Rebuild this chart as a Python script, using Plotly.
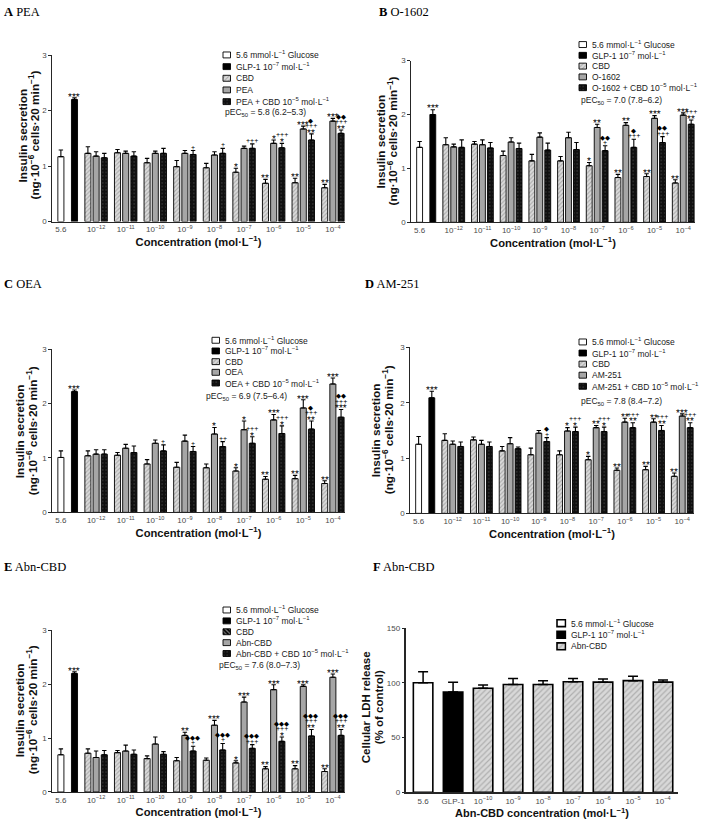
import plotly.graph_objects as go

W, H = 703, 822
FONT = "Liberation Sans, Arial, sans-serif"
SERIF = "Liberation Serif, Times New Roman, serif"
AXC = "#262626"
TICKC = "#4a4a4a"

# ---------------- data ----------------
conc_labels = ["10<sup>−12</sup>", "10<sup>−11</sup>", "10<sup>−10</sup>", "10<sup>−9</sup>",
               "10<sup>−8</sup>", "10<sup>−7</sup>", "10<sup>−6</sup>", "10<sup>−5</sup>", "10<sup>−4</sup>"]
glucose_tick = "5.6"

# A  PEA
PEA_glucose, PEA_glucose_err = 1.17, 0.12
PEA_glp1, PEA_glp1_err = 2.20, 0.03
PEA_cbd = [1.23, 1.24, 1.06, 0.99, 0.97, 0.89, 0.69, 0.70, 0.61]
PEA_cbd_err = [0.12, 0.06, 0.08, 0.11, 0.08, 0.07, 0.07, 0.08, 0.06]
PEA_ag = [1.18, 1.23, 1.23, 1.23, 1.20, 1.32, 1.41, 1.67, 1.81]
PEA_ag_err = [0.08, 0.04, 0.04, 0.05, 0.06, 0.04, 0.06, 0.05, 0.05]
PEA_combo = [1.15, 1.18, 1.23, 1.21, 1.23, 1.32, 1.33, 1.47, 1.59]
PEA_combo_err = [0.08, 0.08, 0.09, 0.07, 0.09, 0.08, 0.08, 0.11, 0.06]
PEA_glp1_sig = "***"
PEA_cbd_sig = ["", "", "", "", "", "*", "**", "**", "**"]
PEA_ag_sig = ["", "", "", "", "", "", "*", "***", "***"]
PEA_combo_sig = ["", "", "", "+", "+", "+++", "+++|*", "◆|+++|**", "◆◆|+++|**"]
PEA_pec50 = "pEC<sub>50</sub> = 5.8 (6.2–5.3)"

# B  O-1602
O1602_glucose, O1602_glucose_err = 1.39, 0.11
O1602_glp1, O1602_glp1_err = 2.00, 0.09
O1602_cbd = [1.44, 1.45, 1.24, 1.14, 1.14, 1.05, 0.83, 0.85, 0.73]
O1602_cbd_err = [0.13, 0.05, 0.08, 0.12, 0.08, 0.06, 0.06, 0.05, 0.06]
O1602_ag = [1.40, 1.44, 1.49, 1.58, 1.57, 1.76, 1.80, 1.93, 1.99]
O1602_ag_err = [0.05, 0.09, 0.08, 0.08, 0.10, 0.06, 0.05, 0.05, 0.04]
O1602_combo = [1.39, 1.38, 1.37, 1.34, 1.35, 1.33, 1.39, 1.48, 1.82]
O1602_combo_err = [0.14, 0.10, 0.10, 0.13, 0.13, 0.09, 0.15, 0.11, 0.08]
O1602_glp1_sig = "***"
O1602_cbd_sig = ["", "", "", "", "", "*", "**", "**", "**"]
O1602_ag_sig = ["", "", "", "", "", "**", "**", "***", "***"]
O1602_combo_sig = ["", "", "", "", "", "◆◆|+", "◆|+++", "◆◆|+++", "+++|**"]
O1602_pec50 = "pEC<sub>50</sub> = 7.0 (7.8–6.2)"

# C  OEA
OEA_glucose, OEA_glucose_err = 1.01, 0.12
OEA_glp1, OEA_glp1_err = 2.22, 0.03
OEA_cbd = [1.04, 1.05, 0.89, 0.83, 0.82, 0.76, 0.61, 0.62, 0.53]
OEA_cbd_err = [0.09, 0.05, 0.08, 0.09, 0.07, 0.06, 0.05, 0.06, 0.05]
OEA_ag = [1.07, 1.18, 1.27, 1.31, 1.44, 1.52, 1.70, 1.92, 2.36]
OEA_ag_err = [0.08, 0.07, 0.06, 0.11, 0.12, 0.16, 0.10, 0.15, 0.11]
OEA_combo = [1.07, 1.10, 1.13, 1.12, 1.21, 1.27, 1.45, 1.53, 1.75]
OEA_combo_err = [0.08, 0.12, 0.11, 0.09, 0.09, 0.12, 0.14, 0.15, 0.14]
OEA_glp1_sig = "***"
OEA_cbd_sig = ["", "", "", "", "", "*", "**", "**", "**"]
OEA_ag_sig = ["", "", "", "", "*", "*", "***", "***", "***"]
OEA_combo_sig = ["", "", "+", "+", "++", "+++|*", "+++|*", "◆|+++|**", "◆◆|+++|***"]
OEA_pec50 = "pEC<sub>50</sub> = 6.9 (7.5–6.4)"

# D  AM-251
AM251_glucose, AM251_glucose_err = 1.25, 0.14
AM251_glp1, AM251_glp1_err = 2.09, 0.12
AM251_cbd = [1.32, 1.33, 1.13, 1.06, 1.06, 0.97, 0.78, 0.79, 0.67]
AM251_cbd_err = [0.12, 0.05, 0.08, 0.12, 0.07, 0.06, 0.04, 0.06, 0.06]
AM251_ag = [1.25, 1.25, 1.26, 1.45, 1.49, 1.55, 1.65, 1.65, 1.76]
AM251_ag_err = [0.06, 0.07, 0.11, 0.05, 0.06, 0.04, 0.07, 0.06, 0.04]
AM251_combo = [1.21, 1.21, 1.17, 1.30, 1.48, 1.48, 1.55, 1.50, 1.55]
AM251_combo_err = [0.08, 0.08, 0.03, 0.07, 0.08, 0.08, 0.09, 0.09, 0.09]
AM251_glp1_sig = "***"
AM251_cbd_sig = ["", "", "", "", "", "*", "**", "**", "**"]
AM251_ag_sig = ["", "", "", "", "*", "**", "**", "**", "***"]
AM251_combo_sig = ["", "", "", "◆|+", "+++|*", "+++|*", "+++|**", "+++|**", "+++|**"]
AM251_pec50 = "pEC<sub>50</sub> = 7.8 (8.4–7.2)"

# E  Abn-CBD
ABN_glucose, ABN_glucose_err = 0.69, 0.11
ABN_glp1, ABN_glp1_err = 2.20, 0.03
ABN_cbd = [0.72, 0.73, 0.62, 0.58, 0.59, 0.54, 0.43, 0.43, 0.38]
ABN_cbd_err = [0.08, 0.04, 0.05, 0.06, 0.04, 0.04, 0.04, 0.06, 0.05]
ABN_ag = [0.64, 0.76, 0.89, 1.05, 1.24, 1.67, 1.90, 1.96, 2.13]
ABN_ag_err = [0.12, 0.11, 0.13, 0.06, 0.09, 0.09, 0.09, 0.03, 0.06]
ABN_combo = [0.69, 0.70, 0.70, 0.76, 0.78, 0.81, 0.94, 1.04, 1.05]
ABN_combo_err = [0.08, 0.08, 0.05, 0.09, 0.12, 0.07, 0.08, 0.12, 0.11]
ABN_glp1_sig = "***"
ABN_cbd_sig = ["", "", "", "", "", "*", "**", "**", "**"]
ABN_ag_sig = ["", "", "", "**", "***", "***", "***", "***", "***"]
ABN_combo_sig = ["", "", "", "◆◆◆|+", "◆◆◆|+", "◆◆◆|+++", "◆◆◆|+++|*", "◆◆◆|+++|**", "◆◆◆|+++|**"]
ABN_pec50 = "pEC<sub>50</sub> = 7.6 (8.0–7.3)"

# F  LDH release
LDH_labels = ["5.6", "GLP-1", "10<sup>−10</sup>", "10<sup>−9</sup>", "10<sup>−8</sup>",
              "10<sup>−7</sup>", "10<sup>−6</sup>", "10<sup>−5</sup>", "10<sup>−4</sup>"]
LDH_glucose, LDH_glucose_err = 100.0, 10.0
LDH_glp1, LDH_glp1_err = 91.5, 9.0
LDH_abn = [95.0, 98.5, 98.5, 101.0, 100.6, 102.0, 100.6]
LDH_abn_err = [3.0, 5.5, 3.5, 3.0, 3.0, 4.0, 2.0]

# ---------------- styles ----------------
OUT = dict(color="black", width=0.9)
ST_GLU = dict(color="white", line=OUT)
ST_GLP = dict(color="black", line=OUT)
ST_CBD = dict(color="#d6d6d6", line=OUT,
              pattern=dict(shape="/", bgcolor="#dadada", fgcolor="#7a7a7a", size=3, solidity=0.35))
ST_AG = dict(color="#a6a6a6", line=OUT)
ST_COMBO = dict(color="black", line=OUT,
                pattern=dict(shape=".", bgcolor="#101010", fgcolor="#8c8c8c", size=3.5, solidity=0.12))
ST_CBD_LEG_E = dict(color="black", line=OUT,
                    pattern=dict(shape="\\", bgcolor="black", fgcolor="white", size=3, solidity=0.4))
OUTF = dict(color="black", width=1.6)
ST_GLU_F = dict(color="white", line=OUTF)
ST_GLP_F = dict(color="black", line=OUTF)
ST_ABN_F = dict(color="#d6d6d6", line=OUTF,
                pattern=dict(shape="/", bgcolor="#d8d8d8", fgcolor="#858585", size=4, solidity=0.3))

# ---------------- geometry ----------------
POS_GLUCOSE, POS_GLP1 = -1.19, -0.73
SUB_OFF = 0.277
BAR_W = 0.205
XRANGE = [-1.49, 8.41]

panels = [
    dict(letter="A", name="PEA", glu=(PEA_glucose, PEA_glucose_err), glp=(PEA_glp1, PEA_glp1_err, PEA_glp1_sig),
         cbd=(PEA_cbd, PEA_cbd_err, PEA_cbd_sig), ag=(PEA_ag, PEA_ag_err, PEA_ag_sig),
         combo=(PEA_combo, PEA_combo_err, PEA_combo_sig), pec=PEA_pec50,
         x0=52, x1=345, ytop=51.7, ybot=220, leg=(223, 51.5, 11.8), pecpos=(223, 110), tpos=(2, 8),
         ytl=(23, 35, 133)),
    dict(letter="B", name="O-1602", glu=(O1602_glucose, O1602_glucose_err), glp=(O1602_glp1, O1602_glp1_err, O1602_glp1_sig),
         cbd=(O1602_cbd, O1602_cbd_err, O1602_cbd_sig), ag=(O1602_ag, O1602_ag_err, O1602_ag_sig),
         combo=(O1602_combo, O1602_combo_err, O1602_combo_sig), pec=O1602_pec50,
         x0=411, x1=695, ytop=57.3, ybot=220.7, leg=(579, 41, 10.9), pecpos=(579, 98), tpos=(377, 8),
         ytl=(381, 393, 139)),
    dict(letter="C", name="OEA", glu=(OEA_glucose, OEA_glucose_err), glp=(OEA_glp1, OEA_glp1_err, OEA_glp1_sig),
         cbd=(OEA_cbd, OEA_cbd_err, OEA_cbd_sig), ag=(OEA_ag, OEA_ag_err, OEA_ag_sig),
         combo=(OEA_combo, OEA_combo_err, OEA_combo_sig), pec=OEA_pec50,
         x0=52, x1=345, ytop=349, ybot=514, leg=(212, 340, 10.8), pecpos=(204, 397), tpos=(2, 283),
         ytl=(20, 32, 432)),
    dict(letter="D", name="AM-251", glu=(AM251_glucose, AM251_glucose_err), glp=(AM251_glp1, AM251_glp1_err, AM251_glp1_sig),
         cbd=(AM251_cbd, AM251_cbd_err, AM251_cbd_sig), ag=(AM251_ag, AM251_ag_err, AM251_ag_sig),
         combo=(AM251_combo, AM251_combo_err, AM251_combo_sig), pec=AM251_pec50,
         x0=410, x1=694, ytop=347.3, ybot=515, leg=(579, 341.7, 11.2), pecpos=(579, 401.7), tpos=(363, 283),
         ytl=(376, 388, 431)),
    dict(letter="E", name="Abn-CBD", glu=(ABN_glucose, ABN_glucose_err), glp=(ABN_glp1, ABN_glp1_err, ABN_glp1_sig),
         cbd=(ABN_cbd, ABN_cbd_err, ABN_cbd_sig), ag=(ABN_ag, ABN_ag_err, ABN_ag_sig),
         combo=(ABN_combo, ABN_combo_err, ABN_combo_sig), pec=ABN_pec50,
         x0=52, x1=345, ytop=633.3, ybot=796.7, leg=(223, 612.7, 11.0), pecpos=(217, 669), tpos=(2, 569),
         ytl=(20, 32, 714)),
]

SIG_FONT = {"*": 10.0, "+": 7.0, "◆": 6.5}
SIG_CENTER = {"*": 7.8, "+": 4.0, "◆": 3.8}


def aid(i):
    return "" if i == 1 else str(i)


def xd(a, b):
    return [a / W, b / W]


def yd(top, bot):
    return [1 - bot / H, 1 - top / H]


fig = go.Figure()
annotations = []
layout = {}


def err(arr):
    return dict(type="data", symmetric=False, array=arr, arrayminus=[0] * len(arr),
                color="black", thickness=1.1, width=2.2)


def sig_annots(x, top, sig, xa, ya):
    out = []
    if not sig:
        return out
    lines = sig.split("|")[::-1]
    for j, s in enumerate(lines):
        k = s[0]
        c = 3.0 + 5.0 * j
        out.append(dict(x=x, y=top, xref=xa, yref=ya, text=s, showarrow=False, textangle=0.05,
                        xanchor="center", yanchor="bottom", borderpad=0,
                        yshift=c - SIG_CENTER[k],
                        font=dict(size=SIG_FONT[k], color="black", family=FONT)))
    return out


def ytitle(lines, xs, yc, size):
    for t, x in zip(lines, xs):
        annotations.append(dict(x=x / W, y=1 - yc / H, xref="paper", yref="paper", text="<b>" + t + "</b>",
                                textangle=-90, showarrow=False, xanchor="center", yanchor="middle",
                                font=dict(size=size, color="#111", family=FONT)))


def add_legend(idx, sx, y0, pitch, styles, labels, sw=7.5, sh=6.0, fsize=8.5):
    n = len(labels)
    a = aid(idx)
    layout["xaxis" + a] = dict(domain=xd(sx - 1, sx + sw + 1), range=[-1, sw + 1], visible=False,
                               fixedrange=True, anchor="y" + a)
    layout["yaxis" + a] = dict(domain=yd(y0 - pitch / 2, y0 + (n - 0.5) * pitch), range=[n - 0.5, -0.5],
                               visible=False, fixedrange=True, anchor="x" + a)
    for i, (st, lab) in enumerate(zip(styles, labels)):
        fig.add_trace(go.Bar(y=[i], x=[sw], base=[0], orientation="h", width=sh / pitch, marker=st,
                             xaxis="x" + a, yaxis="y" + a, showlegend=False, hoverinfo="skip"))
        annotations.append(dict(x=(sx + sw + 3) / W, y=1 - (y0 + i * pitch) / H, xref="paper", yref="paper",
                                text=lab, showarrow=False, xanchor="left", yanchor="middle",
                                font=dict(size=fsize, color="#1a1a1a", family=FONT)))


INS_TITLE = ["Insulin secretion", "(ng·10<sup>−6</sup> cells·20 min<sup>−1</sup>)"]

for pi, p in enumerate(panels):
    idx = pi + 1
    a = aid(idx)
    xa, ya = "x" + a, "y" + a
    gx = list(range(len(conc_labels)))
    series = [
        ([POS_GLUCOSE], [p["glu"][0]], [p["glu"][1]], ST_GLU, [""]),
        ([POS_GLP1], [p["glp"][0]], [p["glp"][1]], ST_GLP, [p["glp"][2]]),
        ([g - SUB_OFF for g in gx], p["cbd"][0], p["cbd"][1], ST_CBD, p["cbd"][2]),
        (gx, p["ag"][0], p["ag"][1], ST_AG, p["ag"][2]),
        ([g + SUB_OFF for g in gx], p["combo"][0], p["combo"][1], ST_COMBO, p["combo"][2]),
    ]
    for xs, ys, es, st, sg in series:
        fig.add_trace(go.Bar(x=xs, y=ys, width=BAR_W, marker=st, error_y=err(es),
                             xaxis=xa, yaxis=ya, showlegend=False, hoverinfo="skip"))
        for x, y, e, s in zip(xs, ys, es, sg):
            annotations.extend(sig_annots(x, y + e, s, xa, ya))

    layout["xaxis" + a] = dict(
        domain=xd(p["x0"], p["x1"]), range=XRANGE, anchor=ya, showline=True, linecolor=AXC, linewidth=1.3,
        showgrid=False, zeroline=False, ticks="", tickmode="array",
        tickvals=[POS_GLUCOSE] + gx, ticktext=[glucose_tick] + conc_labels,
        tickfont=dict(size=8, color=TICKC, family=FONT), fixedrange=True,
        title=dict(text="<b>Concentration (mol·L<sup>−1</sup>)</b>", standoff=2,
                   font=dict(size=11.2, color="#111", family=FONT)))
    layout["yaxis" + a] = dict(
        domain=yd(p["ytop"], p["ybot"]), range=[0, 3], anchor=xa, showline=True, linecolor=AXC, linewidth=1.3,
        showgrid=False, zeroline=False, ticks="outside", ticklen=2.5, tickwidth=1.2, tickcolor=AXC,
        tickvals=[0, 1, 2, 3], tickfont=dict(size=8, color=TICKC, family=FONT), fixedrange=True)
    ytitle(INS_TITLE, p["ytl"][:2], p["ytl"][2], 11.8)

    leg_labels = ["5.6 mmol·L<sup>−1</sup> Glucose", "GLP-1 10<sup>−7</sup> mol·L<sup>−1</sup>", "CBD",
                  p["name"], p["name"] + " + CBD 10<sup>−5</sup> mol·L<sup>−1</sup>"]
    cbd_leg = ST_CBD_LEG_E if p["letter"] == "E" else ST_CBD
    add_legend(idx + 6, p["leg"][0], p["leg"][1], p["leg"][2],
               [ST_GLU, ST_GLP, cbd_leg, ST_AG, ST_COMBO], leg_labels)
    annotations.append(dict(x=p["pecpos"][0] / W, y=1 - p["pecpos"][1] / H, xref="paper", yref="paper",
                            text=p["pec"], showarrow=False, xanchor="left", yanchor="middle",
                            font=dict(size=8.5, color="#1a1a1a", family=FONT)))
    annotations.append(dict(x=p["tpos"][0] / W, y=1 - p["tpos"][1] / H, xref="paper", yref="paper",
                            text="<b>" + p["letter"] + "</b> " + p["name"], showarrow=False,
                            xanchor="left", yanchor="middle",
                            font=dict(size=12.5, color="black", family=SERIF)))

# ---------------- panel F ----------------
a = aid(6)
xa, ya = "x" + a, "y" + a
FW = 0.65
ferr = dict(color="black", thickness=1.5, width=5)
fig.add_trace(go.Bar(x=[LDH_labels[0]], y=[LDH_glucose], width=FW, marker=ST_GLU_F,
                     error_y=dict(type="data", symmetric=False, array=[LDH_glucose_err], arrayminus=[0], **ferr),
                     xaxis=xa, yaxis=ya, showlegend=False, hoverinfo="skip"))
fig.add_trace(go.Bar(x=[LDH_labels[1]], y=[LDH_glp1], width=FW, marker=ST_GLP_F,
                     error_y=dict(type="data", symmetric=False, array=[LDH_glp1_err], arrayminus=[0], **ferr),
                     xaxis=xa, yaxis=ya, showlegend=False, hoverinfo="skip"))
fig.add_trace(go.Bar(x=LDH_labels[2:], y=LDH_abn, width=FW, marker=ST_ABN_F,
                     error_y=dict(type="data", symmetric=False, array=LDH_abn_err,
                                  arrayminus=[0] * len(LDH_abn_err), **ferr),
                     xaxis=xa, yaxis=ya, showlegend=False, hoverinfo="skip"))
layout["xaxis" + a] = dict(
    domain=xd(406, 678), range=[-0.57, 8.5], type="category", categoryorder="array", categoryarray=LDH_labels,
    anchor=ya, showline=True, linecolor=AXC, linewidth=1.5, showgrid=False, zeroline=False, ticks="",
    tickfont=dict(size=8, color=TICKC, family=FONT), fixedrange=True,
    title=dict(text="<b>Abn-CBD concentration (mol·L<sup>−1</sup>)</b>", standoff=1,
               font=dict(size=11, color="#111", family=FONT)))
layout["yaxis" + a] = dict(
    domain=yd(631, 797), range=[0, 150], anchor=xa, showline=True, linecolor=AXC, linewidth=1.5,
    showgrid=False, zeroline=False, ticks="outside", ticklen=2.5, tickwidth=1.2, tickcolor=AXC,
    tickvals=[0, 50, 100, 150], tickfont=dict(size=8, color=TICKC, family=FONT), fixedrange=True)
ytitle(["Cellular LDH release", "(% of control)"], (366, 379), 711, 11.5)
add_legend(12, 557, 626, 11.7, [ST_GLU_F, ST_GLP_F, ST_ABN_F],
           ["5.6 mmol·L<sup>−1</sup> Glucose", "GLP-1 10<sup>−7</sup> mol·L<sup>−1</sup>", "Abn-CBD"],
           sw=8.5, sh=7.0)
annotations.append(dict(x=371 / W, y=1 - 569 / H, xref="paper", yref="paper", text="<b>F</b> Abn-CBD",
                        showarrow=False, xanchor="left", yanchor="middle",
                        font=dict(size=12.5, color="black", family=SERIF)))

fig.update_layout(
    width=W, height=H, autosize=False, margin=dict(l=0, r=0, t=0, b=0),
    paper_bgcolor="white", plot_bgcolor="white", barmode="overlay", showlegend=False,
    font=dict(family=FONT, color="#111"), annotations=annotations, **layout)

fig.write_html("out.html", config={"displayModeBar": False},
               post_script="document.body.style.margin='0px';document.body.style.padding='0px';")
